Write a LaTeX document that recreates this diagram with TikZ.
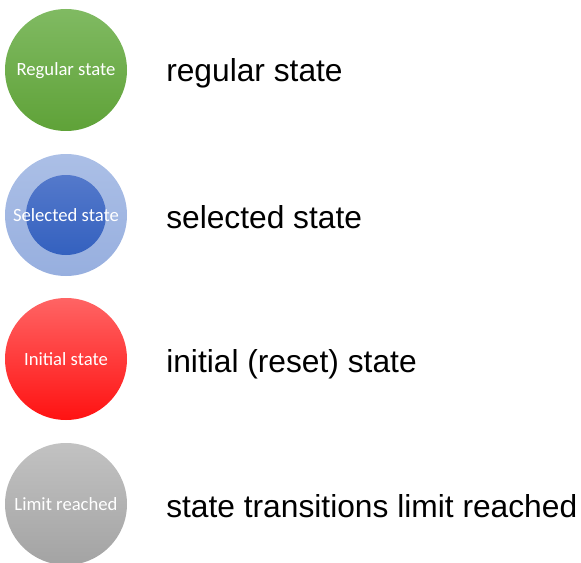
\documentclass[tikz,border=0pt]{standalone}
\usepackage{fontspec}
\setmainfont{Liberation Sans}
\newfontfamily\statefont{Carlito}
\usetikzlibrary{positioning}
\definecolor{stgreentop}{HTML}{80BA62}
\definecolor{stgreenbot}{HTML}{5FA238}
\definecolor{stblueouttop}{HTML}{ABBFE6}
\definecolor{stblueoutbot}{HTML}{97AFDF}
\definecolor{stblueintop}{HTML}{5479CB}
\definecolor{stblueinbot}{HTML}{3461BF}
\definecolor{stredtop}{HTML}{FF6464}
\definecolor{stredbot}{HTML}{FF1212}
\definecolor{stgraytop}{HTML}{C2C2C2}
\definecolor{stgraybot}{HTML}{A3A3A3}
\tikzset{
  stateBall/.style={circle, minimum size=91.5pt, inner sep=0pt, text=white, font=\statefont\fontsize{14pt}{15pt}\selectfont, text height=9pt, text depth=0pt},
  greenBall/.style={stateBall, top color=stgreentop, bottom color=stgreenbot},
  blueOuter/.style={stateBall, top color=stblueouttop, bottom color=stblueoutbot},
  blueInner/.style={circle, minimum size=60pt, inner sep=0pt, top color=stblueintop, bottom color=stblueinbot},
  redBall/.style={stateBall, top color=stredtop, bottom color=stredbot},
  grayBall/.style={stateBall, top color=stgraytop, bottom color=stgraybot},
  legendLabel/.style={anchor=base west, inner sep=0pt, font=\fontsize{23.8pt}{28pt}\selectfont}
}
\begin{document}
\begin{tikzpicture}[x=0.75pt,y=-0.75pt]
  \useasboundingbox (0,0) rectangle (581,563);
  % state circles
  \node[greenBall] (regular) at (66,70) {Regular state};
  \node[blueOuter] (selected) at (66,215) {};
  \node[blueInner] (selcore) at (selected.center) {};
  \node[stateBall] (seltext) at (selected.center) {Selected state};
  \node[redBall] (initial) at (66,359) {Initial state};
  \node[grayBall] (limit) at (66,504) {Limit reached};
  % legend texts
  \node[legendLabel] (regularlbl) at (166,82) {regular state};
  \node[legendLabel] (selectedlbl) at (166,228) {selected state};
  \node[legendLabel] (initiallbl) at (166,372) {initial (reset) state};
  \node[legendLabel] (limitlbl) at (166,517) {state transitions limit reached};
\end{tikzpicture}
\end{document}
